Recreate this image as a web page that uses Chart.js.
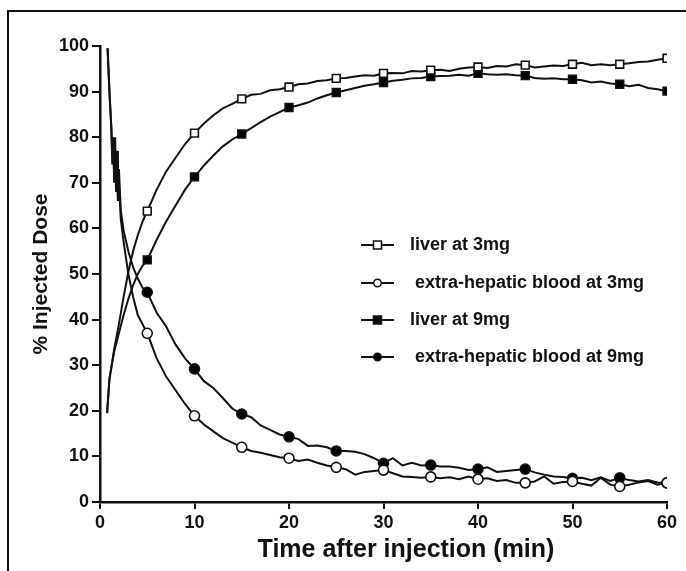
<!DOCTYPE html>
<html>
<head>
<meta charset="utf-8">
<script src="https://cdn.jsdelivr.net/npm/chart.js@4.4.1/dist/chart.umd.min.js"></script>
<style>
  html, body { margin: 0; padding: 0; background: #fff; }
  #wrap { width: 686px; height: 571px; }
</style>
</head>
<body>
<div id="wrap"><canvas id="chart" width="686" height="571"></canvas></div>
<script>
// Données
const earlyTimeLiver = [0.75, 1.0, 1.5, 2.0, 2.5, 3.0, 3.5, 4.0, 4.5];
const earlyTimeBlood = [0.8, 1.0, 1.2, 1.3, 1.4, 1.5, 1.6, 1.7, 1.8, 1.9, 2.0, 2.2, 2.5, 3.0, 3.5, 4.0, 4.5];
const lateTime = [5, 6, 7, 8, 9, 10, 11, 12, 13, 14, 15, 16, 17, 18, 19, 20, 21, 22, 23, 24, 25, 26, 27, 28, 29, 30,
  31, 32, 33, 34, 35, 36, 37, 38, 39, 40, 41, 42, 43, 44, 45, 46, 47, 48, 49, 50, 51, 52, 53, 54, 55, 56, 57, 58, 59, 60];

const liver3Early = [19.5, 27, 33.5, 39, 45, 50.5, 55, 58.5, 61.5];
const liver3Late = [63.8, 68.5, 72.5, 75.5, 78.5, 80.9, 83, 84.8, 86.3, 87.3, 88.4, 89.3, 89.5, 90.3, 90.5, 91.0, 91.6, 91.8,
  92.3, 92.5, 92.9, 93.0, 93.3, 93.6, 93.5, 94.0, 94.1, 94.0, 94.5, 94.4, 94.7, 94.8, 94.5, 95.0, 95.3, 95.4, 95.2, 95.6,
  95.5, 96.0, 95.8, 95.3, 95.5, 95.7, 95.6, 96.0, 96.3, 95.8, 96.0, 95.8, 96.0, 96.2, 96.5, 96.6, 97.0, 97.3];

const liver9Early = [19.5, 27, 33, 37, 41, 44.5, 47.5, 50, 51.8];
const liver9Late = [53.1, 57.5, 61.5, 65, 68.5, 71.3, 73.8, 76, 78, 79.5, 80.7, 82, 83.3, 84.5, 85.5, 86.5, 87, 87.6,
  88.5, 89.2, 89.8, 90.3, 90.8, 91.3, 91.6, 92.0, 92.4, 92.6, 92.9, 93.0, 93.3, 93.4, 93.5, 93.7, 93.5, 94.0, 93.8, 93.7,
  93.8, 93.6, 93.5, 93.0, 92.8, 92.9, 92.7, 92.7, 92.5, 92.0, 92.2, 91.8, 91.6, 91.2, 91.5, 90.8, 90.5, 90.1];

const blood3Early = [99.5, 90, 82, 74, 79, 70, 77, 68, 74, 66, 70, 62, 57, 50, 45, 41, 39];
const blood3Late = [37, 31.5, 27.5, 24.5, 21.5, 18.9, 17.0, 15.5, 14.0, 13.0, 12.0, 11.2, 10.8, 10.3, 9.8, 9.6, 9.0, 9.3,
  8.6, 8.0, 7.6, 7.2, 6.0, 6.6, 6.8, 7.0, 6.3, 5.6, 5.5, 5.3, 5.5, 5.2, 5.4, 5.0, 5.6, 5.0, 5.2, 4.6,
  4.8, 4.2, 4.2, 4.5, 5.6, 4.0, 4.4, 4.5, 4.0, 3.6, 5.3, 3.8, 3.4, 3.8, 4.3, 4.6, 3.8, 4.2];

const blood9Early = [99.5, 90, 82, 76, 80, 72, 80, 70, 77, 66, 73, 64, 59.5, 55, 51.5, 49, 47];
const blood9Late = [46, 41.5, 38.5, 34.5, 31.5, 29.2, 26.5, 25, 22.8, 20.5, 19.3, 18.6, 16.8, 15.8, 14.8, 14.3, 13.8, 12.3,
  12.4, 12.0, 11.2, 11.2, 11.0, 10.5, 9.6, 8.5, 9.6, 8.0, 8.6, 8.0, 8.1, 7.8, 7.8, 7.5, 7.0, 7.2, 7.6, 6.6,
  6.8, 7.0, 7.2, 6.5, 6.0, 5.6, 5.5, 5.2, 5.3, 4.8, 5.4, 4.6, 5.3, 4.8, 4.5, 4.8, 4.3, 4.2];

// Points marqués (toutes les 5 min)
const markerTime = [5, 10, 15, 20, 25, 30, 35, 40, 45, 50, 55, 60];
const liver3Marks = [63.8, 80.9, 88.4, 91.0, 92.9, 94.0, 94.7, 95.4, 95.8, 96.0, 96.0, 97.3];
const blood3Marks = [37, 18.9, 12.0, 9.6, 7.6, 7.0, 5.5, 5.0, 4.2, 4.5, 3.4, 4.2];
const liver9Marks = [53.1, 71.3, 80.7, 86.5, 89.8, 92.0, 93.3, 94.0, 93.5, 92.7, 91.6, 90.1];
const blood9Marks = [46, 29.2, 19.3, 14.3, 11.2, 8.5, 8.1, 7.2, 7.2, 5.2, 5.3, 4.2];

const xTicks = [0, 10, 20, 30, 40, 50, 60];
const yTicks = [0, 10, 20, 30, 40, 50, 60, 70, 80, 90, 100];

const seriesNames = ['liver at 3mg', ' extra-hepatic blood at 3mg', 'liver at 9mg', ' extra-hepatic blood at 9mg'];
const xTitle = 'Time after injection (min)';
const yTitle = '% Injected Dose';

const FONT = "'Liberation Sans', Arial, sans-serif";

function toPoints(xs, ys) {
    return xs.map((x, i) => ({ x: x, y: ys[i] }));
}

const series = [
    { line: toPoints(earlyTimeLiver, liver3Early).concat(toPoints(lateTime, liver3Late)), marks: liver3Marks, style: 'rect', fill: '#fff' },
    { line: toPoints(earlyTimeBlood, blood3Early).concat(toPoints(lateTime, blood3Late)), marks: blood3Marks, style: 'circle', fill: '#fff' },
    { line: toPoints(earlyTimeLiver, liver9Early).concat(toPoints(lateTime, liver9Late)), marks: liver9Marks, style: 'rect', fill: '#000' },
    { line: toPoints(earlyTimeBlood, blood9Early).concat(toPoints(lateTime, blood9Late)), marks: blood9Marks, style: 'circle', fill: '#000' }
];

const datasets = [];
series.forEach((s, i) => {
    datasets.push({
        label: seriesNames[i],
        data: s.line,
        showLine: true,
        borderColor: '#111',
        borderWidth: 2,
        pointRadius: 0,
        tension: 0,
        order: 2
    });
    datasets.push({
        label: seriesNames[i] + ' marks',
        data: toPoints(markerTime, s.marks),
        showLine: false,
        pointStyle: s.style,
        pointRadius: s.style === 'rect' ? 5.5 : 5,
        backgroundColor: s.fill,
        borderColor: '#111',
        borderWidth: 1.6,
        order: 1
    });
});

// Cadre + fond
const framePlugin = {
    id: 'frame',
    beforeDraw(chart) {
        const ctx = chart.ctx;
        ctx.save();
        ctx.fillStyle = '#fff';
        ctx.fillRect(0, 0, chart.width, chart.height);
        ctx.strokeStyle = '#111';
        ctx.lineWidth = 2;
        ctx.beginPath();
        ctx.moveTo(8, chart.height);
        ctx.lineTo(8, 11);
        ctx.lineTo(chart.width, 11);
        ctx.stroke();
        ctx.restore();
    }
};

// Titre de l'axe x (décalé à droite comme sur la figure) + légende (trait + symbole)
const legendPlugin = {
    id: 'customLegend',
    afterDraw(chart) {
        const ctx = chart.ctx;
        ctx.save();
        ctx.fillStyle = '#111';
        ctx.font = "bold 25px " + FONT;
        ctx.textAlign = 'center';
        ctx.textBaseline = 'middle';
        ctx.fillText(xTitle, 406, 550);

        const rowsY = [245, 283, 320, 357];
        ctx.font = "bold 18px " + FONT;
        ctx.textAlign = 'left';
        series.forEach((s, i) => {
            const y = rowsY[i];
            ctx.strokeStyle = '#111';
            ctx.lineWidth = 2;
            ctx.beginPath();
            ctx.moveTo(361, y);
            ctx.lineTo(394, y);
            ctx.stroke();
            ctx.fillStyle = s.fill;
            ctx.lineWidth = 1.5;
            ctx.beginPath();
            if (s.style === 'rect') {
                ctx.rect(373.5, y - 4, 8, 8);
            } else {
                ctx.arc(377.5, y, 3.8, 0, Math.PI * 2);
            }
            ctx.fill();
            ctx.stroke();
            ctx.fillStyle = '#111';
            ctx.fillText(seriesNames[i], 410, y);
        });
        ctx.restore();
    }
};

new Chart(document.getElementById('chart'), {
    type: 'scatter',
    data: { datasets: datasets },
    options: {
        responsive: false,
        animation: false,
        layout: { padding: { left: 0, right: 19, top: 46, bottom: 0 } },
        plugins: {
            legend: { display: false },
            tooltip: { enabled: false }
        },
        scales: {
            x: {
                type: 'linear',
                min: 0,
                max: 60,
                afterFit: (scale) => { scale.height = 69; },
                afterBuildTicks: (scale) => { scale.ticks = xTicks.map(v => ({ value: v })); },
                border: { display: true, color: '#111', width: 2.5 },
                grid: { drawOnChartArea: false, drawTicks: true, tickLength: 7, color: '#111', lineWidth: 2 },
                ticks: {
                    color: '#111',
                    padding: 3,
                    maxRotation: 0,
                    font: { family: FONT, size: 18, weight: 'bold' }
                },
                title: { display: false, text: xTitle }
            },
            y: {
                min: 0,
                max: 100,
                afterFit: (scale) => { scale.width = 100; },
                afterBuildTicks: (scale) => { scale.ticks = yTicks.map(v => ({ value: v })); },
                border: { display: true, color: '#111', width: 2.5 },
                grid: { drawOnChartArea: false, drawTicks: true, tickLength: 8, color: '#111', lineWidth: 2 },
                ticks: {
                    color: '#111',
                    padding: 3,
                    font: { family: FONT, size: 18, weight: 'bold' }
                },
                title: {
                    display: true,
                    text: yTitle,
                    color: '#111',
                    padding: 29,
                    font: { family: FONT, size: 21, weight: 'bold' }
                }
            }
        }
    },
    plugins: [framePlugin, legendPlugin]
});
</script>
</body>
</html>
